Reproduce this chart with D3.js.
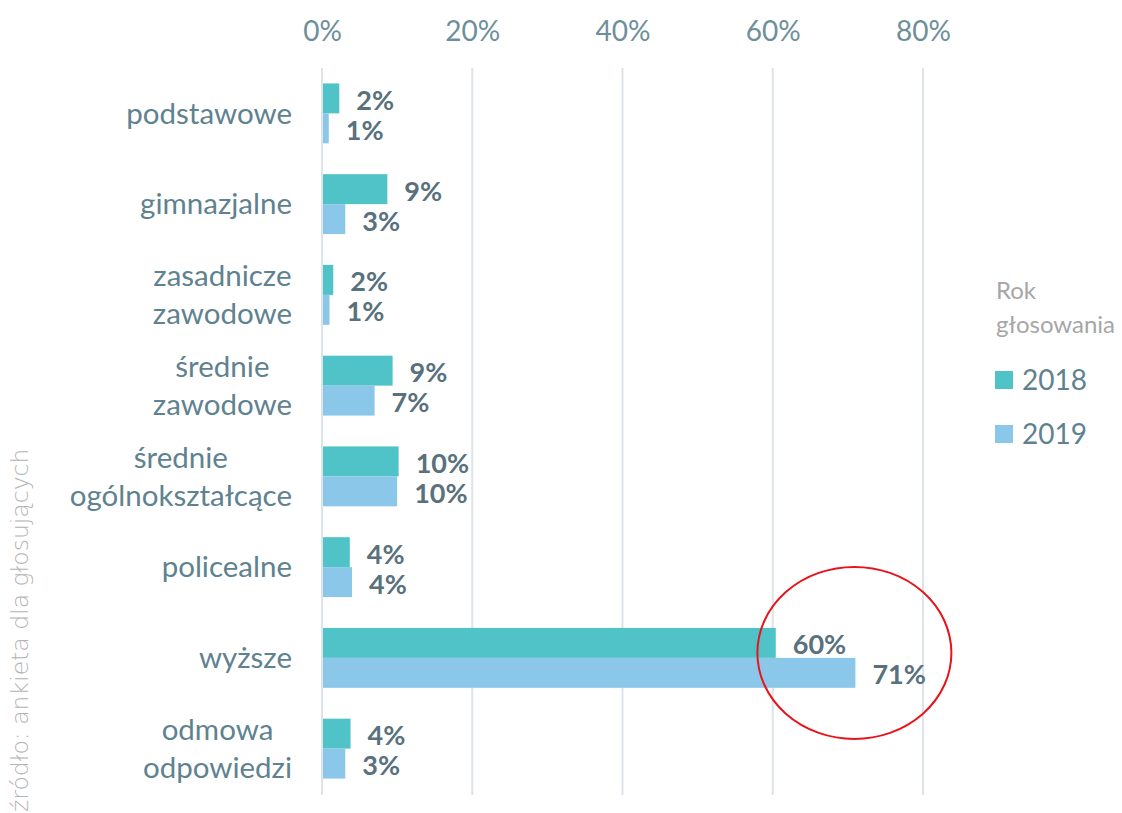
<!DOCTYPE html>
<html>
<head>
<meta charset="utf-8">
<script src="https://cdn.jsdelivr.net/npm/d3@7"></script>
<style>
  body { margin: 0; background: #fff; }
  svg { display: block; }
</style>
</head>
<body>
<div id="chart"></div>
<script>
// DATA
var categories = ["podstawowe", "gimnazjalne", "zasadnicze\nzawodowe", "średnie\nzawodowe",
    "średnie\nogólnokształcące", "policealne", "wyższe", "odmowa\nodpowiedzi"];
var years = ["2018", "2019"];
var values2018 = [2.3, 8.7, 1.5, 9.4, 10.2, 3.7, 60.4, 3.8];
var values2019 = [0.9, 3.1, 1.0, 7.0, 10.0, 4.0, 71.0, 3.1];
var xTicks = [0, 20, 40, 60, 80];
var colors = { "2018": "#4fc3c8", "2019": "#8ac7e8" };

var width = 1122, height = 813;
var font = "Lato, 'Open Sans', sans-serif";

var svg = d3.select("#chart")
    .append("svg")
    .attr("width", width)
    .attr("height", height);

// Scales
var x = d3.scaleLinear().domain([0, 80]).range([322, 923]);
var y = d3.scaleBand().domain(d3.range(categories.length)).range([68, 794])
    .paddingInner(0.34).paddingOuter(0.17);
var yInner = d3.scaleBand().domain(years).range([0, y.bandwidth()]);

// Gridlines
svg.append("g")
    .selectAll("line")
    .data(xTicks)
    .join("line")
    .attr("x1", d => x(d)).attr("x2", d => x(d))
    .attr("y1", 68).attr("y2", 795)
    .attr("stroke", "#dde3e7")
    .attr("stroke-width", 2);

// Top axis labels
var xAxis = svg.append("g")
    .attr("transform", "translate(0,40)")
    .call(d3.axisTop(x).tickValues(xTicks).tickFormat(d => d + "%").tickSize(0).tickPadding(0));
xAxis.select(".domain").remove();
xAxis.selectAll("text")
    .attr("font-family", font)
    .attr("font-size", 28)
    .attr("fill", "#6e8f9a")
    .attr("dy", "0.05em");

// Bars
var rows = categories.map((c, i) => ({ i: i, vals: [
    { year: "2018", v: values2018[i] },
    { year: "2019", v: values2019[i] }] }));

var groups = svg.append("g")
    .selectAll("g")
    .data(rows)
    .join("g")
    .attr("transform", d => "translate(0," + y(d.i) + ")");

groups.selectAll("rect")
    .data(d => d.vals)
    .join("rect")
    .attr("x", x(0) + 1)
    .attr("y", d => yInner(d.year))
    .attr("width", d => x(d.v) - x(0) - 1)
    .attr("height", yInner.bandwidth())
    .attr("fill", d => colors[d.year]);

groups.selectAll("text")
    .data(d => d.vals)
    .join("text")
    .attr("x", d => x(d.v) + 17)
    .attr("y", d => yInner(d.year) + yInner.bandwidth() / 2 + 2)
    .attr("dy", "0.35em")
    .attr("font-family", font)
    .attr("font-weight", "bold")
    .attr("font-size", 27)
    .attr("fill", "#58717c")
    .text(d => Math.round(d.v) + "%");

// Category labels (wrapped lines centred on the longest line)
var labelRight = 292, lineH = 38;
categories.forEach(function(c, i) {
    var lines = c.split("\n");
    var g = svg.append("g");
    var texts = lines.map(function(l, k) {
        return g.append("text")
            .attr("y", y(i) + y.bandwidth() / 2 + (k - (lines.length - 1) / 2) * lineH)
            .attr("dy", "0.35em")
            .attr("text-anchor", "middle")
            .attr("font-family", font)
            .attr("font-size", 29.5)
            .attr("fill", "#5f8290")
            .text(l);
    });
    var maxW = d3.max(texts, t => t.node().getComputedTextLength());
    texts.forEach(t => t.attr("x", labelRight - maxW / 2));
});

// Legend
var legend = svg.append("g").attr("transform", "translate(995,0)");
legend.append("text").attr("x", 1).attr("y", 291).attr("dy", "0.35em")
    .attr("font-family", font).attr("font-size", 24).attr("fill", "#a6a6a6").text("Rok");
legend.append("text").attr("x", 1).attr("y", 325).attr("dy", "0.35em")
    .attr("font-family", font).attr("font-size", 24).attr("fill", "#a6a6a6").text("głosowania");
years.forEach(function(yr, k) {
    var cy = 380 + k * 54;
    legend.append("rect").attr("x", 0).attr("y", cy - 9).attr("width", 18).attr("height", 18)
        .attr("fill", colors[yr]);
    legend.append("text").attr("x", 27).attr("y", cy).attr("dy", "0.35em")
        .attr("font-family", font).attr("font-size", 28).attr("fill", "#5f8290").text(yr);
});

// Source note
svg.append("text")
    .attr("transform", "translate(20,812) rotate(-90)")
    .attr("dy", "0.35em")
    .attr("font-family", "'DejaVu Sans', sans-serif")
    .attr("font-size", 23.5)
    .attr("font-weight", 300)
    .attr("fill", "#b3b3b3")
    .text("źródło: ankieta dla głosujących");

// Highlight ellipse around "wyższe"
var hi = categories.indexOf("wyższe");
svg.append("ellipse")
    .attr("cx", x(values2019[hi]) - 1)
    .attr("cy", y(hi) + y.bandwidth() / 2 - 5)
    .attr("rx", 97)
    .attr("ry", 86)
    .attr("fill", "none")
    .attr("stroke", "#e8141b")
    .attr("stroke-width", 2);
</script>
</body>
</html>
